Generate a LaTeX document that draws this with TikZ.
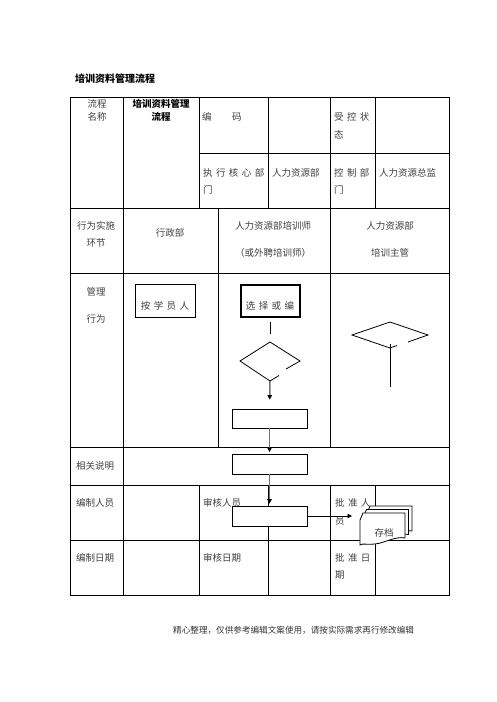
\documentclass[tikz,border=0pt]{standalone}
\usepackage{fontspec}
\setmainfont{Noto Sans CJK SC}
\usetikzlibrary{arrows.meta}
\newcommand\gp{\hspace{3.4pt}}
\begin{document}
\begin{tikzpicture}[x=1pt,y=-1pt,
  tline/.style={line width=0.8pt,black},
  txt/.style={inner sep=0pt,font=\fontsize{9.5}{11}\selectfont,text=black!75},
  lt/.style={txt,anchor=west},
  foot/.style={inner sep=0pt,font=\fontsize{8.6}{10}\selectfont,text=black!80},
  flowbox/.style={draw,line width=0.8pt,fill=white,inner sep=0pt},
  garrow/.style={draw=black!55,line width=1.5pt,-{Triangle[length=4.5pt,width=4.5pt,color=black]}},
  barrow/.style={draw=black,line width=0.9pt,-{Triangle[length=4.5pt,width=4.5pt]}},
  docshape/.style={draw,line width=0.8pt,fill=white}]
\useasboundingbox (0,0) rectangle (496,702);

% title
\node[inner sep=0pt,anchor=west,font=\fontsize{10}{12}\selectfont\bfseries] (title) at (75,79) {培训资料管理流程};

% table lines
\draw[tline] (70,97) rectangle (449,595);
\foreach \yy in {208,273,447,485,540} \draw[tline] (70,\yy) -- (449,\yy);
\draw[tline] (199,153) -- (449,153);
\draw[tline] (123,97) -- (123,595);
\foreach \xx in {199,268,330,375} {
  \draw[tline] (\xx,97) -- (\xx,208);
  \draw[tline] (\xx,485) -- (\xx,595);
}
\draw[tline] (218,208) -- (218,447);
\draw[tline] (330,208) -- (330,447);

% block 1 texts
\node[txt] (t1a) at (97,104) {流程};
\node[txt] (t1b) at (97,117) {名称};
\node[txt,text=black,font=\fontsize{9.5}{11}\selectfont\bfseries] (t2a) at (161,104) {培训资料管理};
\node[txt,text=black,font=\fontsize{9.5}{11}\selectfont\bfseries] (t2b) at (161,117) {流程};
\node[lt] (t3a) at (202,117) {编};
\node[lt] (t3b) at (232,117) {码};
\node[lt] (t4a) at (334,117) {受\gp 控\gp 状};
\node[lt] (t4b) at (334,135) {态};
\node[lt] (t5a) at (203,173) {执\gp 行\gp 核\gp 心\gp 部};
\node[lt] (t5b) at (203,190) {门};
\node[lt] (t6) at (272,173) {人力资源部};
\node[lt] (t7a) at (334,173) {控\gp 制\gp 部};
\node[lt] (t7b) at (334,190) {门};
\node[lt] (t8) at (379,173) {人力资源总监};

% block 2 texts
\node[txt] (u1a) at (96,226) {行为实施};
\node[txt] (u1b) at (96,243) {环节};
\node[txt] (u2) at (170,233) {行政部};
\node[txt] (u3a) at (273,226) {人力资源部培训师};
\node[txt] (u3b) at (273,253) {（或外聘培训师）};
\node[txt] (u4a) at (390,226) {人力资源部};
\node[txt] (u4b) at (390,253) {培训主管};

% block 3 texts
\node[txt] (v1a) at (96,292) {管理};
\node[txt] (v1b) at (96,319) {行为};

% bottom texts
\node[lt] (w1) at (76,466) {相关说明};
\node[lt] (w2) at (76,503) {编制人员};
\node[lt] (w3) at (203,503) {审核人员};
\node[lt] (w4a) at (335,503) {批\gp 准\gp 人};
\node[lt] (w4b) at (335,521) {员};
\node[lt] (w5) at (76,558) {编制日期};
\node[lt] (w6) at (203,558) {审核日期};
\node[lt] (w7a) at (335,558) {批\gp 准\gp 日};
\node[lt] (w7b) at (335,575) {期};

% flow shapes
\node[flowbox,minimum width=60pt,minimum height=33pt] (b1) at (165,300.5) {};
\node[txt] at (165,306) {按\gp 学\gp 员\gp 人};
\node[flowbox,line width=2pt,minimum width=59pt,minimum height=32pt] (b2) at (270,300.5) {};
\node[txt] at (270,306) {选\gp 择\gp 或\gp 编};

\coordinate (s1) at (270,322);
\coordinate (s2) at (270,334);
\draw[line width=0.9pt] (s1) -- (s2);

% diamond 1
\coordinate (d1l) at (240,361);
\coordinate (d1t) at (270,342);
\coordinate (d1r) at (300,361);
\coordinate (d1b) at (270,381);
\draw[line width=0.8pt] (286,369) -- (d1r) -- (d1t) -- (d1l) -- (d1b) -- (279,375.5);

\node[flowbox,minimum width=75pt,minimum height=19pt] (r1) at (269.5,418.5) {};
\node[flowbox,minimum width=75pt,minimum height=20pt] (r2) at (269.5,464) {};
\node[flowbox,minimum width=75pt,minimum height=20pt] (r3) at (269.5,516) {};

\draw[garrow,shorten >=9pt] (d1b) -- (r1.north);
\draw[garrow,shorten >=1.5pt] (r1.south) -- (r2.north);
\draw[garrow,shorten >=2pt] (r2.south) -- (r3.north);

% document stack
\coordinate (dc) at (383,529);
\foreach \dx/\dy in {7/-7,3.5/-3.5,0/0} {
  \begin{scope}[shift={(\dx,\dy)}]
    \draw[docshape] (360,520) -- (363,513) -- (405,513) -- (405,538)
      .. controls (395,536) and (385,543) .. (375,544)
      .. controls (368,545) and (362,543) .. (360,545) -- cycle;
  \end{scope}
}
\node[txt] (doc) at (384,533) {存档};
\draw[barrow,shorten >=8pt] (r3.east) -- (r3.east -| 360,0);

% diamond 2
\coordinate (d2l) at (352,335);
\coordinate (d2t) at (390,322);
\coordinate (d2r) at (428,335);
\coordinate (d2b) at (390,348);
\draw[line width=0.8pt] (408,342) -- (d2r) -- (d2t) -- (d2l) -- (d2b) -- (397,345.5);
\coordinate (e1) at (390,344);
\coordinate (e2) at (390,387);
\draw[line width=0.9pt] (e1) -- (e2);

% footer
\node[foot,anchor=west] (footer) at (173,630) {精心整理，仅供参考编辑文案使用，请按实际需求再行修改编辑};
\end{tikzpicture}
\end{document}
